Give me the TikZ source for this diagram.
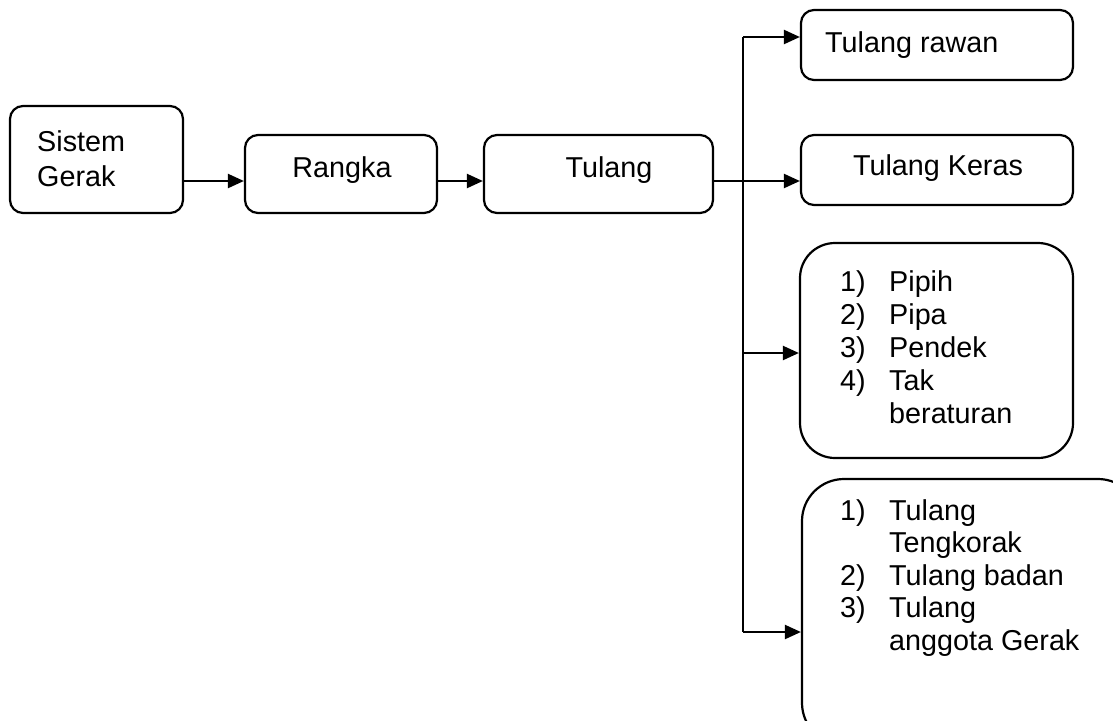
\documentclass[tikz,border=0pt]{standalone}
\usepackage{fontspec}
\setmainfont{Liberation Sans}
\usetikzlibrary{arrows.meta}
\begin{document}
\begin{tikzpicture}[x=1pt,y=-1pt,
  box/.style={draw, line width=2.2pt, rounded corners=13pt, inner sep=0pt},
  lbl/.style={inner sep=0pt, font=\fontsize{28.75}{33}\selectfont, align=left},
  arr/.style={line width=2.2pt, -{Triangle[length=16pt,width=14pt]}},
  ln/.style={line width=2.2pt}]
\useasboundingbox (0,0) rectangle (1113,720);
\clip (0,0) rectangle (1113,720);
% boxes
\node[box, minimum width=173pt, minimum height=107pt] (sg) at (96.5,159.5) {};
\node[box, minimum width=192pt, minimum height=78pt] (rangka) at (341,174) {};
\node[box, minimum width=229pt, minimum height=78pt] (tulang) at (598.5,174) {};
\node[box, minimum width=272pt, minimum height=70pt] (rawan) at (937,45) {};
\node[box, minimum width=272pt, minimum height=70pt] (keras) at (937,170) {};
\node[box, rounded corners=35pt, minimum width=273pt, minimum height=215pt] (pipih) at (936.5,350.5) {};
\node[box, rounded corners=42pt, minimum width=338pt, minimum height=266pt] (bentuk) at (971,612) {};
% texts (base anchor = baseline of the last line)
\node[lbl, anchor=base west, font=\fontsize{28.75}{35}\selectfont] (sgt) at (37,186) {Sistem\\Gerak};
\node[lbl, anchor=base] (rangkat) at (342,177) {Rangka};
\node[lbl, anchor=base] (tulangt) at (609,177) {Tulang};
\node[lbl, anchor=base west] (rawant) at (825,52) {Tulang rawan};
\node[lbl, anchor=base] (kerast) at (938,175) {Tulang Keras};
\node[lbl, anchor=base west] (pipiht) at (840,423)
  {\makebox[49pt][l]{1)}Pipih\\
   \makebox[49pt][l]{2)}Pipa\\
   \makebox[49pt][l]{3)}Pendek\\
   \makebox[49pt][l]{4)}Tak\\
   \hspace*{49pt}beraturan};
\node[lbl, anchor=base west, font=\fontsize{28.75}{32.5}\selectfont] (bentukt) at (840,650)
  {\makebox[49pt][l]{1)}Tulang\\
   \hspace*{49pt}Tengkorak\\
   \makebox[49pt][l]{2)}Tulang badan\\
   \makebox[49pt][l]{3)}Tulang\\
   \hspace*{49pt}anggota Gerak};
% connectors
\coordinate (a1) at (200,181);
\coordinate (j) at (743,181);
\coordinate (jt) at (743,37);
\coordinate (jm) at (743,353);
\coordinate (jb) at (743,632);
\draw[arr] (sg.east |- a1) -- (a1 -| rangka.west);
\draw[arr] (rangka.east |- a1) -- (a1 -| tulang.west);
\draw[ln] (tulang.east |- j) -- (j);
\draw[arr] (j) -- (j -| keras.west);
\draw[ln] (jt) -- (jb);
\draw[arr] (jt) -- (jt -| rawan.west);
\draw[arr] (jm) -- (jm -| pipih.west);
\draw[arr] (jb) -- (jb -| bentuk.west);
\end{tikzpicture}
\end{document}
